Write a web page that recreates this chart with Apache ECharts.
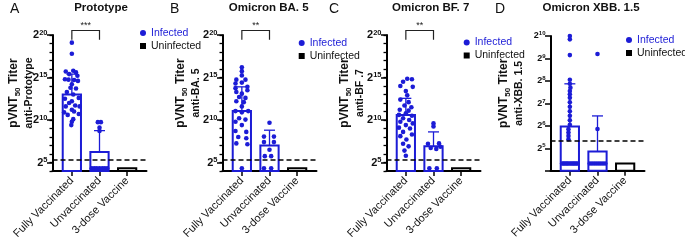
<!DOCTYPE html>
<html>
<head>
<meta charset="utf-8">
<script src="https://cdn.jsdelivr.net/npm/echarts@6/dist/echarts.min.js"></script>
<style>
  html, body { margin: 0; background: #fff; }
  #chart { width: 685px; height: 244px; }
</style>
</head>
<body>
<div id="chart"></div>
<script>
// all titers are stored as log2 values (2^n)
var categories = ['Fully Vaccinated', 'Unvaccinated', '3-dose Vaccine'];
var panelTitles = ['Prototype', 'Omicron BA. 5', 'Omicron BF. 7', 'Omicron XBB. 1.5'];
var panelLetters = ['A', 'B', 'C', 'D'];
var yNames = ['anti-Prototype', 'anti-BA. 5', 'anti-BF .7', 'anti-XBB. 1.5'];
var stars = ['***', '**', '**', ''];
var LOD = 5.32; // dashed line, titer 40

var ticksAC = [5, 10, 15, 20];
var ticksD = [5, 6, 7, 8, 9, 10];

// bar heights (mean) and SD, per category
var protoMean = [13.0, 6.25, 4.32], protoSD = [2.4, 2.5, 0];
var ba5Mean = [11.05, 7.0, 4.32], ba5SD = [2.85, 1.8, 0];
var bf7Mean = [10.6, 6.9, 4.32], bf7SD = [1.95, 1.7, 0];
var xbbMean = [5.97, 4.86, 4.32], xbbSD = [1.9, 1.58, 0];

// individual points: [jitter, log2 titer]
var protoFully = [[0,19.1],[0,17.8],[-0.22,15.7],[0.05,15.8],[0.15,15.6],[-0.1,15.4],[0.2,15.2],[-0.25,14.8],[-0.12,14.75],
  [0.08,14.7],[0.22,14.6],[0,14.2],[-0.05,13.8],[0.15,13.7],[-0.18,13.3],[0.05,13.0],[0.25,12.6],[-0.25,12.5],[0,12.2],
  [-0.1,12.0],[0.12,11.7],[-0.22,11.6],[0.28,11.6],[0,11.2],[0.08,11.0],[-0.28,10.9],[0.25,10.7],[-0.15,10.6],[0.05,10.1],
  [0,9.8],[-0.02,9.4]];
var protoUnvac = [[-0.06,9.75],[0.05,9.75],[0,9.1],[0,8.7],[-0.28,4.32],[-0.19,4.32],[-0.1,4.32],[0,4.32],[0.1,4.32],
  [0.19,4.32],[0.28,4.32]];
var ba5Fully = [[0,16.2],[0,15.75],[0,15.25],[-0.2,14.75],[0.13,14.75],[0,14.4],[-0.23,14.3],[0.2,13.9],[-0.23,13.75],
  [0.2,13.5],[-0.2,13.3],[0,13.1],[-0.1,12.7],[0.13,12.6],[-0.2,12.2],[0.07,12.1],[0,11.6],[-0.23,11.05],[0.23,11.05],
  [0,10.9],[-0.1,10.2],[0.13,10.05],[-0.23,9.8],[0,9.4],[-0.23,8.7],[0.16,8.6],[-0.13,8.0],[0.16,7.85],[-0.2,7.25],
  [0.2,7.15],[0,4.32]];
var ba5Unvac = [[0,9.67],[-0.2,8.05],[0.16,8.05],[-0.2,7.4],[0.16,7.4],[0,6.5],[-0.17,5.75],[0.06,5.75],[-0.2,4.32],[0.06,4.32]];
var bf7Fully = [[0.05,14.85],[0.22,14.8],[-0.1,14.5],[-0.2,14.0],[0.25,13.9],[0,13.4],[0.05,12.9],[-0.2,12.4],[0.1,12.1],
  [-0.05,11.7],[0.2,11.5],[-0.22,11.2],[0.1,11.1],[0,10.8],[-0.25,10.6],[0.22,10.5],[-0.1,10.2],[0.12,10.0],[-0.2,9.8],
  [0.25,9.6],[0,9.4],[-0.25,9.1],[0.15,9.0],[-0.1,8.6],[0.22,8.3],[-0.2,8.1],[0.02,7.7],[-0.1,7.2],[0.1,6.9],[-0.05,6.4],
  [0,5.8]];
var bf7Unvac = [[0,9.6],[0,9.25],[-0.2,7.2],[0.2,7.25],[-0.1,6.7],[0.1,6.6],[0.25,6.85],[-0.15,4.32],[0.12,4.32]];
var xbbFully = [[0,10.0],[0,9.85],[0,9.15],[0,8.05],[0,7.87],[0.02,7.7],[0,7.55],[0,7.4],[0,7.25],[0,7.05],[0,6.85],
  [0,6.65],[0,6.45],[0,6.25],[0,6.05],[-0.05,5.85],[-0.05,5.7],[-0.05,5.55],[-0.05,5.4],
  [-0.28,4.32],[-0.23,4.32],[-0.18,4.32],[-0.13,4.32],[-0.08,4.32],[-0.03,4.32],[0.03,4.32],[0.08,4.32],[0.13,4.32],
  [0.18,4.32],[0.23,4.32],[0.28,4.32]];
var xbbUnvac = [[0,9.2],[0,5.86],[-0.28,4.32],[-0.2,4.32],[-0.12,4.32],[-0.04,4.32],[0.04,4.32],[0.12,4.32],[0.2,4.32],[0.28,4.32]];

var means = [protoMean, ba5Mean, bf7Mean, xbbMean];
var sds = [protoSD, ba5SD, bf7SD, xbbSD];
var fully = [protoFully, ba5Fully, bf7Fully, xbbFully];
var unvac = [protoUnvac, ba5Unvac, bf7Unvac, xbbUnvac];

// layout
var BLUE = '#1c1cd6';
var FONT = 'Liberation Sans';
var gridLeft = [52.5, 222.5, 386.5, 550.5];
var gridTop = [35, 35, 35, 36];
var gridH = [136, 136, 136, 134.7];
var yMin = [4, 4, 4, 4];
var yMax = [20, 20, 20, 10];
var nameGap = [15, 18, 18, 23];
var legendPos = [[140, 27], [298.7, 37], [463.7, 36.5], [626, 34]];
var titleX = [99, 266.7, 428.7, 589];
var letterX = [8, 168, 327, 493];
var BAR_FRAC = 0.66, CAP = 11;

function range(a, b) { var r = []; for (var i = a; i <= b; i++) r.push(i); return r; }

function barRender(lo, color) {
  return function (params, api) {
    var x = api.value(0), m = api.value(1), s = api.value(2);
    var top = api.coord([x, m]);
    var bot = api.coord([x, lo]);
    var w = api.size([BAR_FRAC, 0])[0];
    var kids = [{
      type: 'rect',
      shape: { x: top[0] - w / 2, y: top[1], width: w, height: bot[1] - top[1] },
      style: { fill: 'none', stroke: color, lineWidth: 2 }
    }];
    if (s > 0) {
      var hi = api.coord([x, m + s]);
      kids.push({ type: 'line', shape: { x1: top[0], y1: top[1], x2: hi[0], y2: hi[1] }, style: { stroke: color, lineWidth: 1.3 } });
      kids.push({ type: 'line', shape: { x1: hi[0] - CAP / 2, y1: hi[1], x2: hi[0] + CAP / 2, y2: hi[1] }, style: { stroke: color, lineWidth: 1.3 } });
    }
    return { type: 'group', children: kids };
  };
}

function bracketRender(params, api) {
  var a = api.coord([api.value(0), api.value(3)]);
  var b = api.coord([api.value(0), api.value(2)]);
  var c = api.coord([api.value(1), api.value(2)]);
  var d = api.coord([api.value(1), api.value(3)]);
  return {
    type: 'group',
    children: [
      { type: 'polyline', shape: { points: [a, b, c, d] }, style: { fill: 'none', stroke: '#222', lineWidth: 1.2 } },
      { type: 'text', x: (b[0] + c[0]) / 2, y: b[1] - 0.5,
        style: { text: api.value(4), align: 'center', verticalAlign: 'bottom', fontSize: 9, fill: '#222', fontFamily: FONT } }
    ]
  };
}

var titles = [], legends = [], grids = [], xAxes = [], yAxes = [], series = [];

for (var i = 0; i < 4; i++) {
  titles.push({ text: panelLetters[i], left: letterX[i], top: 0, padding: 2,
    textStyle: { fontSize: 14, fontWeight: 'normal', color: '#111', fontFamily: FONT } });
  titles.push({ text: panelTitles[i], left: titleX[i], top: 0, padding: 2, textAlign: 'center',
    textStyle: { fontSize: 11.5, fontWeight: 'bold', color: '#111', fontFamily: FONT } });

  legends.push({
    orient: 'vertical', left: legendPos[i][0], top: legendPos[i][1], padding: 0,
    itemWidth: 6, itemHeight: 6, itemGap: 1, selectedMode: false,
    textStyle: { fontSize: 10.5, fontFamily: FONT, lineHeight: 12 },
    data: [
      { name: 'Infected', icon: 'circle', itemStyle: { color: BLUE }, textStyle: { color: BLUE } },
      { name: 'Uninfected', icon: 'rect', itemStyle: { color: '#000' }, textStyle: { color: '#111' } }
    ]
  });

  grids.push({ left: gridLeft[i], top: gridTop[i], width: 94, height: gridH[i], outerBoundsMode: 'none' });

  xAxes.push({
    type: 'value', gridIndex: i, min: -0.7, max: 2.7,
    axisLine: { onZero: false, lineStyle: { color: '#000', width: 2 } },
    axisTick: { customValues: [0, 1, 2], length: 5, lineStyle: { color: '#000', width: 1.5 } },
    axisLabel: {
      customValues: [0, 1, 2], rotate: 45, margin: 8, fontSize: 11, color: '#111', fontFamily: FONT,
      formatter: function (v) { return categories[Math.round(v)]; }
    },
    splitLine: { show: false }
  });

  var isD = i === 3;
  var labelTicks = isD ? ticksD : ticksAC;
  var big = isD ? 9 : 11, small = isD ? 6 : 7.5;
  yAxes.push({
    type: 'value', gridIndex: i, min: yMin[i], max: yMax[i], position: 'left',
    axisLine: { onZero: false, lineStyle: { color: '#000', width: 2 } },
    axisTick: { customValues: isD ? [] : range(yMin[i], yMax[i]), length: 3, lineStyle: { color: '#000', width: 1.3 } },
    axisLabel: {
      customValues: labelTicks, margin: 5, fontFamily: FONT,
      formatter: function (v) { return '{b|2}{s|' + v + '}'; },
      rich: {
        b: { fontSize: big, fontWeight: 'bold', color: '#111', lineHeight: big + 2, fontFamily: FONT },
        s: { fontSize: small, fontWeight: 'bold', color: '#111', lineHeight: small, verticalAlign: 'top', fontFamily: FONT }
      }
    },
    splitLine: { show: false },
    name: '{t|pVNT}{u|50}{t| Titer}\n{r|' + yNames[i] + '}',
    nameLocation: 'middle', nameRotate: 90, nameGap: nameGap[i], nameMoveOverlap: false,
    nameTextStyle: {
      lineHeight: 16, padding: [0, 0, 0, 20],
      rich: {
        t: { fontSize: 12, fontWeight: 'bold', color: '#111', lineHeight: 16, fontFamily: FONT },
        u: { fontSize: 8, fontWeight: 'bold', color: '#111', lineHeight: 8, verticalAlign: 'bottom', fontFamily: FONT },
        r: { fontSize: 10.5, fontWeight: 'bold', color: '#111', lineHeight: 16, fontFamily: FONT }
      }
    }
  });
  // second axis only for the longer major ticks
  yAxes.push({
    type: 'value', gridIndex: i, min: yMin[i], max: yMax[i], position: 'left', offset: 0,
    axisLine: { show: false, onZero: false },
    axisTick: { customValues: isD ? range(yMin[i], yMax[i]) : labelTicks, length: 5.5, lineStyle: { color: '#000', width: 1.5 } },
    axisLabel: { show: false },
    splitLine: { show: false }
  });

  var m = means[i], s = sds[i];
  if (stars[i]) {
    series.push({
      type: 'custom', xAxisIndex: i, yAxisIndex: 2 * i, renderItem: bracketRender, silent: true,
      data: [[0, 1, 20.53, 19.45, stars[i]]], z: 4
    });
  }
  series.push({
    type: 'custom', name: 'Infected', xAxisIndex: i, yAxisIndex: 2 * i, renderItem: barRender(yMin[i], BLUE),
    itemStyle: { color: BLUE }, data: [[0, m[0], s[0]], [1, m[1], s[1]]], z: 2
  });
  series.push({
    type: 'custom', name: 'Uninfected', xAxisIndex: i, yAxisIndex: 2 * i, renderItem: barRender(yMin[i], '#000'),
    itemStyle: { color: '#000' }, data: [[2, m[2], s[2]]], z: 2
  });
  var pts = fully[i].map(function (p) { return [0 + p[0], p[1]]; })
    .concat(unvac[i].map(function (p) { return [1 + p[0], p[1]]; }));
  series.push({
    type: 'scatter', name: 'Infected', xAxisIndex: i, yAxisIndex: 2 * i,
    symbol: 'circle', symbolSize: 4.6, itemStyle: { color: BLUE, opacity: 1 }, data: pts, z: 3,
    markLine: {
      silent: true, symbol: 'none', label: { show: false },
      lineStyle: { type: [5, 3], color: '#000', width: 1.6 },
      data: [{ yAxis: LOD }]
    }
  });
}

var chart = echarts.init(document.getElementById('chart'));
chart.setOption({
  animation: false,
  backgroundColor: '#fff',
  textStyle: { fontFamily: FONT },
  title: titles,
  legend: legends,
  grid: grids,
  xAxis: xAxes,
  yAxis: yAxes,
  series: series
});
</script>
</body>
</html>
